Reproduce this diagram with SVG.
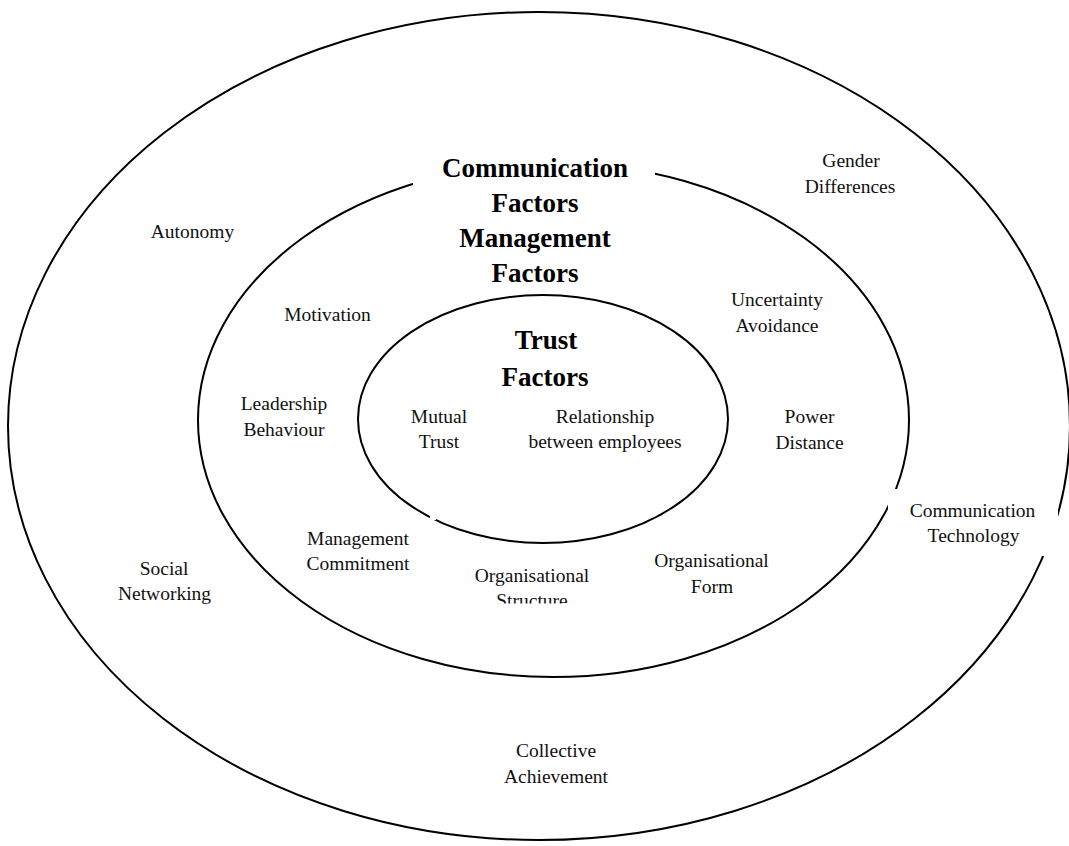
<svg xmlns="http://www.w3.org/2000/svg" width="1069" height="846" viewBox="0 0 1069 846">
<style>
.ring{fill:none;stroke:#000;stroke-width:2}
.t{font-family:"Liberation Serif","Times New Roman",serif;font-size:19.5px;fill:#111;text-anchor:middle}
.b{font-family:"Liberation Serif","Times New Roman",serif;font-size:27px;font-weight:bold;fill:#000;text-anchor:middle}
.bg{fill:#fff}
</style>
<defs>
<clipPath id="clipStruct"><rect x="440" y="555" width="200" height="48.5"/></clipPath>
</defs>
<rect width="1069" height="846" fill="#fff"/>
<g id="rings">
<ellipse id="outer" class="ring" cx="539" cy="426" rx="531" ry="414"/>
<ellipse id="middle" class="ring" cx="553.5" cy="420" rx="355.5" ry="257"/>
<ellipse id="inner" class="ring" cx="543" cy="419" rx="185" ry="124"/>
</g>
<g id="title-comm-mgmt">
<rect class="bg" x="413" y="148" width="242" height="142"/>
<text class="b" x="535" y="177">Communication</text>
<text class="b" x="535" y="212">Factors</text>
<text class="b" x="535" y="247">Management</text>
<text class="b" x="535" y="282">Factors</text>
</g>
<g id="title-trust">
<text class="b" x="546" y="349">Trust</text>
<text class="b" x="545" y="386">Factors</text>
</g>
<g id="mutual-trust"><text class="t" x="439" y="423">Mutual</text><text class="t" x="439" y="448">Trust</text></g>
<g id="relationship"><text class="t" x="605" y="423">Relationship</text><text class="t" x="605" y="448">between employees</text></g>
<g id="autonomy"><text class="t" x="192.5" y="238">Autonomy</text></g>
<g id="gender"><text class="t" x="851" y="167">Gender</text><text class="t" x="850" y="193">Differences</text></g>
<g id="motivation"><text class="t" x="327.5" y="321">Motivation</text></g>
<g id="uncertainty"><text class="t" x="777" y="306">Uncertainty</text><text class="t" x="777" y="332">Avoidance</text></g>
<g id="leadership"><text class="t" x="284" y="410">Leadership</text><text class="t" x="284" y="436">Behaviour</text></g>
<g id="power"><text class="t" x="809.5" y="423">Power</text><text class="t" x="809.5" y="449">Distance</text></g>
<g id="comm-tech">
<rect class="bg" x="888" y="489" width="170" height="67"/>
<text class="t" x="972.5" y="517">Communication</text>
<text class="t" x="973.5" y="542">Technology</text>
</g>
<g id="mgmt-commit">
<rect class="bg" x="430" y="512" width="6" height="8"/>
<text class="t" x="358" y="545">Management</text>
<text class="t" x="358" y="570">Commitment</text>
</g>
<g id="org-structure" clip-path="url(#clipStruct)">
<text class="t" x="532" y="582">Organisational</text>
<text class="t" x="532" y="607">Structure</text>
</g>
<g id="org-form"><text class="t" x="711.5" y="567">Organisational</text><text class="t" x="712" y="593">Form</text></g>
<g id="social"><text class="t" x="164" y="575">Social</text><text class="t" x="164.5" y="600">Networking</text></g>
<g id="collective"><text class="t" x="556" y="757">Collective</text><text class="t" x="556" y="783">Achievement</text></g>
</svg>
